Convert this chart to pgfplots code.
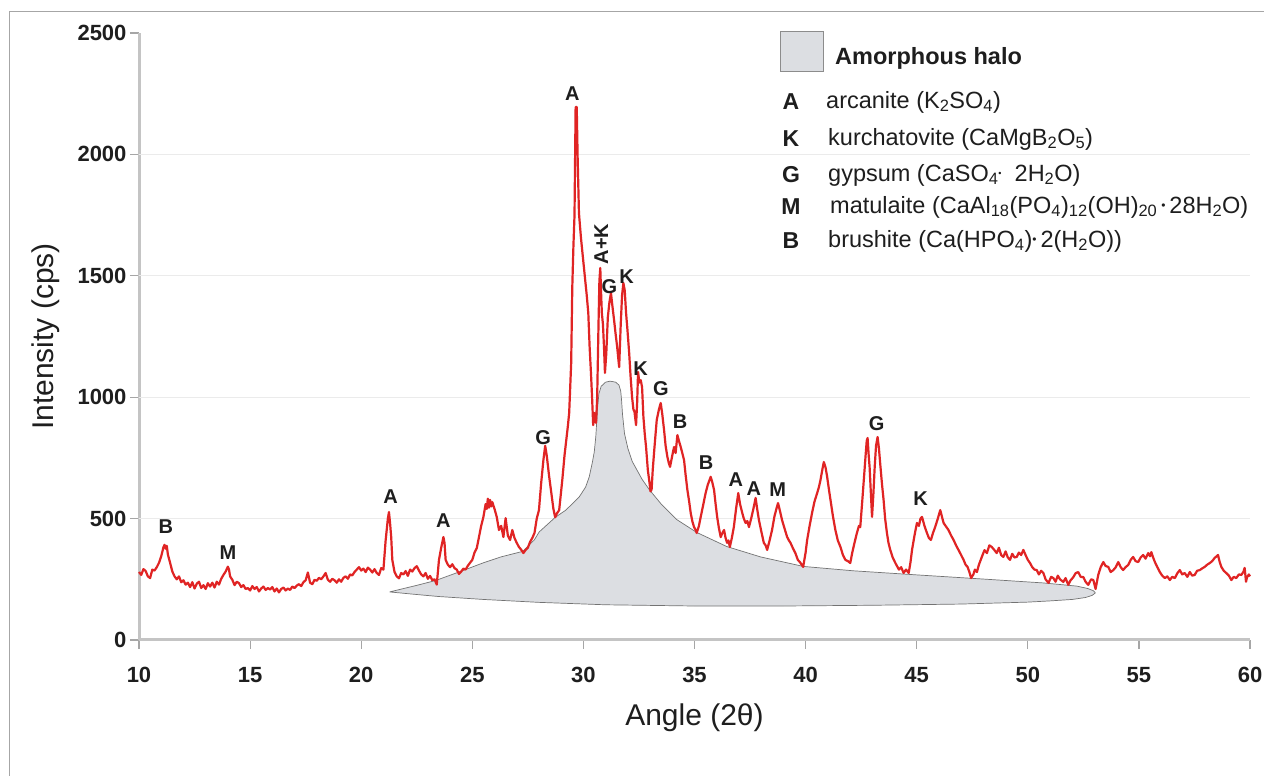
\documentclass[border=0pt]{standalone}
\usepackage{pgfplots}
\pgfplotsset{compat=1.18}
\usepackage{fontspec}
\setmainfont{Liberation Sans}
\definecolor{xrdred}{RGB}{224,36,36}
\definecolor{halo}{RGB}{220,222,226}
\definecolor{axgray}{RGB}{196,196,196}
\definecolor{txt}{RGB}{30,30,30}
\begin{document}
\begin{tikzpicture}[x=1pt,y=1pt]
\useasboundingbox (0,0) rectangle (1264,776);
\fill[white] (0,0) rectangle (1264,776);
\draw[black!35, line width=1pt] (9,0) -- (9,764) -- (1264,764);
\begin{axis}[
  at={(139pt,136pt)}, anchor=south west,
  scale only axis, width=1111pt, height=607pt,
  xmin=10, xmax=60, ymin=0, ymax=2500,
  xtick={10,15,...,60}, ytick={0,500,...,2500},
  axis x line=bottom, axis y line=left,
  axis line style={-, draw=axgray, line width=3pt},
  tick align=outside, major tick length=9pt,
  tick style={draw=black!35, line width=1.2pt},
  ticklabel style={font=\fontsize{22}{26}\selectfont\bfseries, text=txt},
  /pgf/number format/assume math mode=true,
  /pgf/number format/1000 sep={},
  xticklabel style={yshift=-15pt},
  extra y ticks={500,1000,1500,2000},
  extra y tick labels={},
  extra y tick style={grid=major, major tick length=0pt},
  grid style={draw=black!8, line width=0.8pt},
  xlabel={Angle (2θ)}, ylabel={Intensity (cps)},
  label style={font=\fontsize{30}{36}\selectfont, text=txt},
  xlabel style={at={(axis description cs:0.5,-0.1285)}, anchor=center},
  ylabel style={at={(axis description cs:-0.0843,0.5)}, anchor=center},
  clip=false,
]
% amorphous halo
\addplot[fill=halo, draw=black!55, line width=0.7pt] coordinates {
(21.28,198)(22.0,214)(22.5,225)(23.35,245)(24.4,280)(25.5,318)(26.28,342)(27.27,365)(27.79,412)(28.01,445)(28.73,505)(29.21,535)(29.81,589)(30.1,630)(30.26,671)(30.4,730)(30.49,775)(30.56,840)(30.6,900)(30.64,960)(30.7,1015)(30.8,1045)(31.0,1062)(31.2,1066)(31.45,1062)(31.6,1050)(31.68,1025)(31.72,985)(31.76,930)(31.85,850)(32.0,790)(32.2,735)(32.64,662)(32.96,620)(33.5,560)(34.2,496)(35.1,443)(36.45,385)(37.98,342)(39.9,303)(42.15,285)(45.03,268)(48.0,251)(50.7,235)(52.2,222)(52.7,212)(52.95,203)(53.04,194)(52.9,184)(52.6,175)(52.0,167)(51.0,161)(50.0,156)(47.0,148)(43.0,143)(39.0,140)(35.0,140)(31.0,145)(28.0,155)(25.5,167)(23.5,179)(22.3,189)(21.28,198)
};
% diffraction pattern
\addplot[xrdred, line width=2.2pt, line join=round] coordinates {
(10.0,280)(10.1,268)(10.2,292)(10.3,284)(10.4,262)(10.5,255)(10.6,290)(10.7,286)(10.8,300)(10.9,318)(11.0,345)(11.1,382)(11.15,392)(11.2,376)(11.25,388)(11.3,352)(11.4,318)(11.5,282)(11.6,262)
(11.7,250)(11.8,262)(11.9,238)(12.0,246)(12.1,228)(12.2,236)(12.3,218)(12.4,238)(12.5,212)(12.6,232)(12.7,240)(12.8,214)(12.9,226)(13.0,210)(13.1,234)(13.2,220)(13.3,236)(13.4,216)(13.5,240)(13.6,228)(13.7,252)(13.8,268)(13.9,282)(14.0,302)(14.05,290)(14.1,262)(14.2,248)(14.3,226)(14.4,240)(14.5,234)(14.6,218)(14.7,226)(14.8,210)(14.9,214)(15.0,204)(15.1,222)(15.2,210)(15.3,218)(15.4,200)(15.5,212)(15.6,220)(15.7,206)(15.8,214)(15.9,208)(16.0,218)(16.1,200)(16.2,212)(16.3,196)(16.4,210)(16.5,216)(16.6,204)(16.7,212)(16.8,206)(16.9,220)(17.0,214)(17.1,224)(17.2,230)(17.3,222)(17.4,238)(17.5,246)(17.6,278)(17.7,236)(17.8,230)(17.9,248)(18.0,244)(18.1,256)(18.2,250)(18.3,262)(18.4,276)(18.5,248)(18.6,240)(18.7,252)(18.8,246)(18.9,236)(19.0,250)(19.1,240)(19.2,256)(19.3,262)(19.4,252)(19.5,270)(19.6,266)(19.7,280)(19.8,290)(19.9,300)(20.0,286)(20.1,294)(20.2,280)(20.3,298)(20.4,290)(20.5,278)(20.6,292)(20.7,276)(20.8,268)(20.9,296)(21.0,290)(21.1,410)(21.2,500)(21.25,527)(21.3,480)(21.35,424)(21.4,330)(21.5,280)(21.6,262)(21.7,254)(21.8,276)(21.9,270)(22.0,284)(22.1,264)(22.2,290)(22.3,282)(22.4,296)(22.5,304)(22.6,286)(22.7,270)(22.8,262)(22.9,276)(23.0,252)(23.1,264)(23.2,246)(23.3,250)(23.4,228)(23.5,330)(23.6,380)(23.7,424)(23.75,400)(23.8,330)(23.9,310)(24.0,300)(24.1,312)(24.2,296)(24.3,290)(24.4,272)(24.5,282)(24.6,294)(24.7,290)(24.8,306)(24.9,318)(25.0,330)(25.1,360)(25.2,378)(25.3,424)(25.4,470)(25.5,507)(25.6,560)(25.65,540)(25.7,582)(25.75,545)(25.8,577)(25.85,550)(25.9,568)(26.0,540)(26.1,507)(26.2,453)(26.3,470)(26.4,424)(26.5,502)(26.6,430)(26.7,412)(26.8,453)(26.9,420)(27.0,400)(27.1,383)(27.2,372)(27.3,358)(27.4,371)(27.5,380)(27.6,404)(27.7,420)(27.8,441)(27.9,500)(28.0,535)(28.1,647)(28.2,741)(28.28,800)(28.35,760)(28.45,680)(28.55,610)(28.65,540)(28.73,505)(28.8,520)(28.91,535)(29.05,659)(29.15,760)(29.23,824)(29.3,880)(29.36,935)(29.45,1141)(29.5,1454)(29.55,1620)(29.6,1750)(29.65,2195)(29.7,2195)(29.74,1990)(29.8,1758)(29.86,1690)(29.9,1647)(29.99,1565)(30.08,1483)(30.15,1420)(30.22,1347)(30.28,1207)(30.34,1100)(30.39,1001)(30.44,885)(30.5,935)(30.57,894)(30.62,1000)(30.68,1300)(30.72,1480)(30.76,1532)(30.8,1420)(30.83,1347)(30.88,1300)(30.93,1200)(30.97,1100)(31.03,1180)(31.1,1330)(31.17,1390)(31.24,1429)(31.3,1380)(31.38,1318)(31.45,1260)(31.52,1207)(31.58,1150)(31.61,1124)(31.68,1300)(31.74,1420)(31.8,1470)(31.86,1440)(31.92,1347)(31.98,1280)(32.06,1182)(32.12,1090)(32.19,1001)(32.25,950)(32.3,940)(32.37,885)(32.42,980)(32.46,1104)(32.52,1060)(32.58,1070)(32.64,1042)(32.7,920)(32.76,850)(32.82,795)(32.9,700)(32.96,659)(33.02,612)(33.07,620)(33.12,700)(33.2,795)(33.3,906)(33.4,950)(33.48,976)(33.55,930)(33.63,865)(33.7,800)(33.78,754)(33.84,730)(33.9,713)(34.0,760)(34.08,795)(34.15,770)(34.23,844)(34.3,820)(34.38,795)(34.45,770)(34.53,741)(34.6,680)(34.68,618)(34.76,570)(34.83,523)(34.9,490)(34.98,465)(35.04,455)(35.1,441)(35.2,470)(35.28,507)(35.4,560)(35.5,605)(35.6,640)(35.68,660)(35.73,672)(35.8,650)(35.88,618)(35.95,560)(36.02,507)(36.1,460)(36.18,424)(36.25,440)(36.33,453)(36.4,420)(36.47,400)(36.53,410)(36.59,383)(36.68,420)(36.77,465)(36.87,540)(36.97,605)(37.05,560)(37.15,523)(37.22,500)(37.3,482)(37.38,490)(37.45,465)(37.55,500)(37.65,540)(37.75,585)(37.82,540)(37.9,494)(38.0,450)(38.12,400)(38.2,390)(38.27,371)(38.38,410)(38.49,453)(38.6,510)(38.7,545)(38.76,564)(38.85,530)(38.94,494)(39.05,460)(39.17,424)(39.25,410)(39.32,400)(39.42,380)(39.54,358)(39.65,330)(39.75,320)(39.89,301)(40.0,360)(40.07,412)(40.18,470)(40.29,523)(40.4,570)(40.52,605)(40.6,630)(40.67,659)(40.75,700)(40.82,733)(40.9,710)(40.97,672)(41.05,620)(41.12,577)(41.23,510)(41.34,453)(41.45,410)(41.57,383)(41.68,350)(41.79,330)(41.9,325)(42.01,317)(42.1,360)(42.2,400)(42.31,441)(42.4,470)(42.46,465)(42.54,560)(42.61,647)(42.7,760)(42.75,820)(42.79,832)(42.84,760)(42.88,713)(42.94,600)(42.99,507)(43.05,600)(43.11,713)(43.17,800)(43.24,836)(43.3,790)(43.37,713)(43.44,640)(43.51,577)(43.58,500)(43.66,441)(43.73,400)(43.81,371)(43.92,340)(44.04,317)(44.2,290)(44.3,300)(44.41,276)(44.52,290)(44.64,276)(44.72,320)(44.79,371)(44.9,430)(45.01,482)(45.1,470)(45.17,500)(45.24,507)(45.35,470)(45.46,441)(45.55,420)(45.64,412)(45.73,440)(45.83,465)(45.95,500)(46.06,535)(46.13,510)(46.21,482)(46.3,470)(46.43,453)(46.55,430)(46.66,412)(46.77,390)(46.88,371)(47.0,350)(47.11,330)(47.2,310)(47.29,301)(47.37,280)(47.45,255)(47.55,270)(47.62,290)(47.71,280)(47.8,310)(47.93,342)(48.05,370)(48.16,358)(48.27,390)(48.38,383)(48.5,370)(48.6,358)(48.7,380)(48.8,350)(48.9,342)(49.0,365)(49.1,340)(49.2,330)(49.3,355)(49.4,340)(49.5,342)(49.6,360)(49.7,350)(49.8,371)(49.9,350)(50.0,330)(50.1,317)(50.2,300)(50.3,290)(50.4,288)(50.5,270)(50.6,285)(50.7,276)(50.8,250)(50.93,235)(51.05,260)(51.15,255)(51.25,240)(51.35,265)(51.45,250)(51.6,239)(51.7,255)(51.82,227)(51.92,245)(52.05,259)(52.15,275)(52.27,280)(52.38,260)(52.5,259)(52.6,240)(52.72,227)(52.85,250)(52.95,247)(53.05,210)(53.17,268)(53.28,300)(53.4,321)(53.5,305)(53.62,301)(53.73,280)(53.85,288)(53.96,300)(54.07,321)(54.18,300)(54.29,288)(54.4,300)(54.52,309)(54.63,330)(54.74,342)(54.85,325)(54.97,321)(55.08,340)(55.19,350)(55.3,335)(55.42,358)(55.5,345)(55.56,362)(55.64,340)(55.72,321)(55.83,300)(55.94,280)(56.05,265)(56.17,255)(56.28,262)(56.39,247)(56.5,260)(56.62,255)(56.73,275)(56.84,288)(56.95,270)(57.06,276)(57.18,260)(57.29,280)(57.4,265)(57.51,268)(57.62,285)(57.74,288)(57.85,295)(57.96,301)(58.07,310)(58.19,317)(58.3,325)(58.41,338)(58.5,345)(58.56,350)(58.64,320)(58.71,301)(58.82,285)(58.93,276)(59.05,265)(59.16,247)(59.27,260)(59.38,255)(59.5,270)(59.61,268)(59.7,280)(59.76,297)(59.82,240)(59.87,259)(59.95,270)(60.0,262)
};
% peak labels
\begin{scope}[every node/.style={font=\fontsize{20}{22}\selectfont\bfseries, text=txt, inner sep=0pt}]
\node at (axis cs:11.21,465) {B};
\node at (axis cs:14.00,358) {M};
\node at (axis cs:21.32,589) {A};
\node at (axis cs:23.70,490) {A};
\node at (axis cs:28.19,832) {G};
\node at (axis cs:29.50,2249) {A};
\node[rotate=90] at (axis cs:30.80,1631) {A+K};
\node at (axis cs:31.17,1454) {G};
\node at (axis cs:31.94,1495) {K};
\node at (axis cs:32.57,1116) {K};
\node at (axis cs:33.49,1034) {G};
\node at (axis cs:34.35,898) {B};
\node at (axis cs:35.52,729) {B};
\node at (axis cs:36.86,659) {A};
\node at (axis cs:37.67,622) {A};
\node at (axis cs:38.75,618) {M};
\node at (axis cs:43.20,890) {G};
\node at (axis cs:45.17,581) {K};
\end{scope}
\end{axis}
% legend
\fill[halo, draw=black!45, line width=1pt] (780,704) rectangle (823,744);
\begin{scope}[every node/.style={inner sep=0pt, text=txt}]
\node[anchor=west, font=\fontsize{23.5}{28}\selectfont\bfseries] at (835,718) {Amorphous halo};
\node[font=\fontsize{23}{28}\selectfont\bfseries] at (791,674) {A};
\node[font=\fontsize{23}{28}\selectfont\bfseries] at (791,637) {K};
\node[font=\fontsize{23}{28}\selectfont\bfseries] at (791,601) {G};
\node[font=\fontsize{23}{28}\selectfont\bfseries] at (791,569) {M};
\node[font=\fontsize{23}{28}\selectfont\bfseries] at (791,535) {B};
\node[anchor=west, font=\fontsize{23.5}{28}\selectfont] at (826,674) {arcanite (K\textsubscript{2}SO\textsubscript{4})};
\node[anchor=west, font=\fontsize{23.5}{28}\selectfont] at (828,637) {kurchatovite (CaMgB\textsubscript{2}O\textsubscript{5})};
\node[anchor=west, font=\fontsize{23.5}{28}\selectfont] at (828,601) {gypsum (CaSO\textsubscript{4}\raisebox{0.35ex}{\fontsize{9}{9}\selectfont•}\ \ 2H\textsubscript{2}O)};
\node[anchor=west, font=\fontsize{23.5}{28}\selectfont] at (830,569) {matulaite (CaAl\textsubscript{18}(PO\textsubscript{4})\textsubscript{12}(OH)\textsubscript{20}\,\raisebox{0.3ex}{\fontsize{12}{12}\selectfont•}\,28H\textsubscript{2}O)};
\node[anchor=west, font=\fontsize{23.5}{28}\selectfont] at (828,535) {brushite (Ca(HPO\textsubscript{4})\raisebox{0.3ex}{\fontsize{12}{12}\selectfont•}\,2(H\textsubscript{2}O))};
\end{scope}
\end{tikzpicture}
\end{document}
